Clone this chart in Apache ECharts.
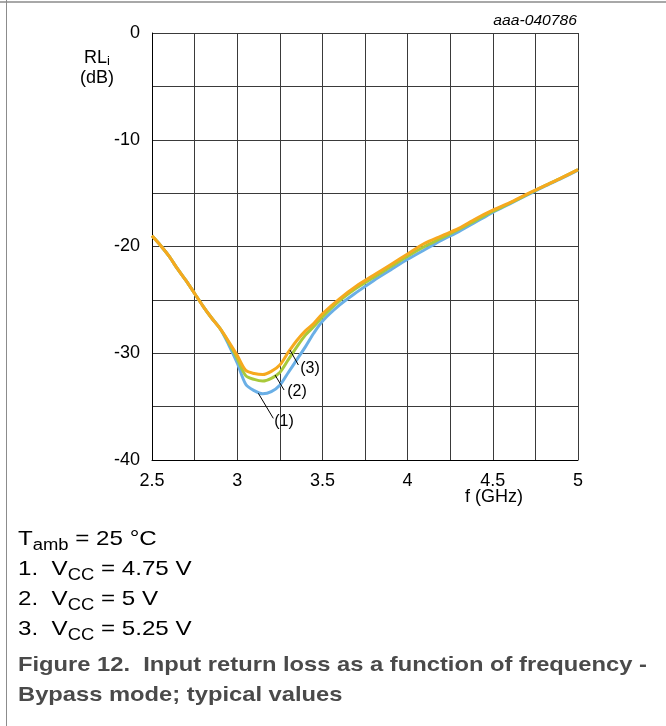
<!DOCTYPE html>
<html>
<head>
<meta charset="utf-8">
<script src="https://cdn.jsdelivr.net/npm/echarts@6/dist/echarts.min.js"></script>
<style>
  html, body { margin: 0; padding: 0; background: #fff; }
  #chart { width: 666px; height: 726px; }
</style>
</head>
<body>
<div id="chart"></div>
<script>
// Frequency sweep (GHz)
const freq = [2.5, 2.55, 2.6, 2.65, 2.7, 2.75, 2.8, 2.85, 2.9, 2.95,
  3.0, 3.05, 3.1, 3.15, 3.2, 3.25, 3.3, 3.35, 3.4, 3.45,
  3.5, 3.6, 3.7, 3.8, 3.9, 4.0, 4.1, 4.2, 4.3, 4.4,
  4.5, 4.6, 4.7, 4.8, 4.9, 5.0];

// Input return loss (dB) per supply voltage
const rlVcc475 = [-19.0, -19.9, -20.9, -22.1, -23.2, -24.4, -25.6, -26.7, -27.7, -29.2,
  -30.9, -32.9, -33.5, -33.8, -33.6, -33.0, -31.8, -30.6, -29.4, -28.1,
  -27.0, -25.5, -24.3, -23.2, -22.2, -21.2, -20.3, -19.4, -18.6, -17.7,
  -16.8, -16.0, -15.2, -14.4, -13.65, -12.85];
const rlVcc500 = [-19.0, -19.9, -20.9, -22.1, -23.2, -24.4, -25.6, -26.7, -27.7, -29.0,
  -30.5, -32.1, -32.45, -32.6, -32.35, -31.8, -30.6, -29.4, -28.3, -27.5,
  -26.6, -25.1, -23.9, -22.9, -21.9, -20.9, -20.0, -19.2, -18.4, -17.55,
  -16.7, -15.95, -15.15, -14.35, -13.6, -12.8];
const rlVcc525 = [-19.0, -19.9, -20.9, -22.1, -23.2, -24.4, -25.6, -26.7, -27.7, -28.9,
  -30.2, -31.6, -31.9, -32.0, -31.7, -31.1, -29.9, -28.8, -27.9, -27.2,
  -26.3, -24.9, -23.7, -22.7, -21.7, -20.7, -19.7, -19.0, -18.3, -17.4,
  -16.6, -15.9, -15.1, -14.35, -13.6, -12.8];

// Curve callouts: [label, curve point, leader end, label point] in (GHz, dB)
const callouts = [
  ['(1)', [3.124, -33.75], [3.212, -36.1], [3.275, -36.4]],
  ['(2)', [3.222, -32.04], [3.275, -33.44], [3.351, -33.6]],
  ['(3)', [3.310, -29.70], [3.359, -31.10], [3.427, -31.4]]
];

const xTickLabels = ['2.5', '3', '3.5', '4', '4.5', '5'];
const yTickLabels = ['-40', '-30', '-20', '-10', '0'];

const colors = ['#6aafe6', '#a9c93a', '#f6a91e'];
const font = '"Liberation Sans", Arial, sans-serif';

function pairs(ys) { return freq.map((f, i) => [f, ys[i]]); }

const chart = echarts.init(document.getElementById('chart'), null, { renderer: 'canvas' });

const leaderLines = callouts.map(c => [{ coord: c[1] }, { coord: c[2] }]);
const leaderLabels = callouts.map(c => ({ coord: c[3], value: c[0] }));

function curve(name, ys, color, extra) {
  return Object.assign({
    name: name,
    type: 'line',
    data: pairs(ys),
    showSymbol: false,
    smooth: 0.3,
    lineStyle: { color: color, width: 3 },
    z: 3
  }, extra || {});
}

function tickText(list) {
  return v => list.find(t => Math.abs(parseFloat(t) - v) < 1e-6) || '';
}

const option = {
  animation: false,
  backgroundColor: '#fff',
  grid: { left: 152, top: 33, width: 426, height: 427, containLabel: false },
  xAxis: {
    type: 'value', min: 2.5, max: 5, interval: 0.25,
    axisLine: { show: true, onZero: false, lineStyle: { color: '#000', width: 1 } },
    axisTick: { show: false },
    axisLabel: { margin: 12, color: '#000', fontSize: 18, fontFamily: font, formatter: tickText(xTickLabels) },
    splitLine: { show: true, lineStyle: { color: '#3a3a3a', width: 1 } }
  },
  yAxis: {
    type: 'value', min: -40, max: 0, interval: 5,
    axisLine: { show: true, onZero: false, lineStyle: { color: '#000', width: 1 } },
    axisTick: { show: false },
    axisLabel: { margin: 12, color: '#000', fontSize: 18, fontFamily: font, formatter: tickText(yTickLabels) },
    splitLine: { show: true, lineStyle: { color: '#3a3a3a', width: 1 } }
  },
  series: [
    curve('VCC = 4.75 V', rlVcc475, colors[0]),
    curve('VCC = 5 V', rlVcc500, colors[1]),
    curve('VCC = 5.25 V', rlVcc525, colors[2], {
      markLine: {
        silent: true, symbol: ['none', 'none'],
        lineStyle: { color: '#000', width: 1, type: 'solid' },
        label: { show: false },
        data: leaderLines
      },
      markPoint: {
        silent: true, symbol: 'circle', symbolSize: 1,
        itemStyle: { color: 'rgba(0,0,0,0)' },
        label: {
          show: true, position: 'inside', color: '#000', fontSize: 16, fontFamily: font,
          formatter: p => p.value
        },
        data: leaderLabels
      }
    })
  ],
  graphic: [
    // frame edges
    { type: 'line', shape: { x1: 0, y1: 2, x2: 666, y2: 2 }, style: { stroke: '#a8a8a8', lineWidth: 2 } },
    { type: 'line', shape: { x1: 6.5, y1: 0, x2: 6.5, y2: 726 }, style: { stroke: '#8c8c8c', lineWidth: 1 } },
    // y-axis title
    {
      type: 'text', x: 97, y: 48,
      style: {
        text: '{m|RL}{s|i}\n{m|(dB)}',
        align: 'center', verticalAlign: 'top',
        rich: {
          m: { fontSize: 18, fontFamily: font, color: '#000', lineHeight: 20 },
          s: { fontSize: 13, fontFamily: font, color: '#000', lineHeight: 13, verticalAlign: 'bottom' }
        }
      }
    },
    // x-axis title
    {
      type: 'text', x: 465, y: 488,
      style: { text: 'f (GHz)', fontSize: 18, fontFamily: font, fill: '#000', verticalAlign: 'top' }
    },
    // figure id
    {
      type: 'text', x: 577, y: 14, scaleX: 1.12,
      style: { text: 'aaa-040786', fontSize: 14, fontStyle: 'italic', fontFamily: font, fill: '#000', align: 'right', verticalAlign: 'top' }
    },
    // conditions
    {
      type: 'text', x: 18, y: 524, scaleX: 1.15,
      style: {
        text: '{m|T}{s|amb}{m| = 25 °C}\n{m|1.  V}{s|CC}{m| = 4.75 V}\n{m|2.  V}{s|CC}{m| = 5 V}\n{m|3.  V}{s|CC}{m| = 5.25 V}',
        verticalAlign: 'top',
        rich: {
          m: { fontSize: 21, fontFamily: font, color: '#000', lineHeight: 30 },
          s: { fontSize: 16, fontFamily: font, color: '#000', lineHeight: 12, verticalAlign: 'bottom' }
        }
      }
    },
    // caption
    {
      type: 'text', x: 18, y: 650, scaleX: 1.13,
      style: {
        text: 'Figure 12.  Input return loss as a function of frequency -\nBypass mode; typical values',
        fontSize: 21, fontWeight: 'bold', fontFamily: font, fill: '#4a4a4a', lineHeight: 30,
        verticalAlign: 'top'
      }
    }
  ]
};

chart.setOption(option);
</script>
</body>
</html>
